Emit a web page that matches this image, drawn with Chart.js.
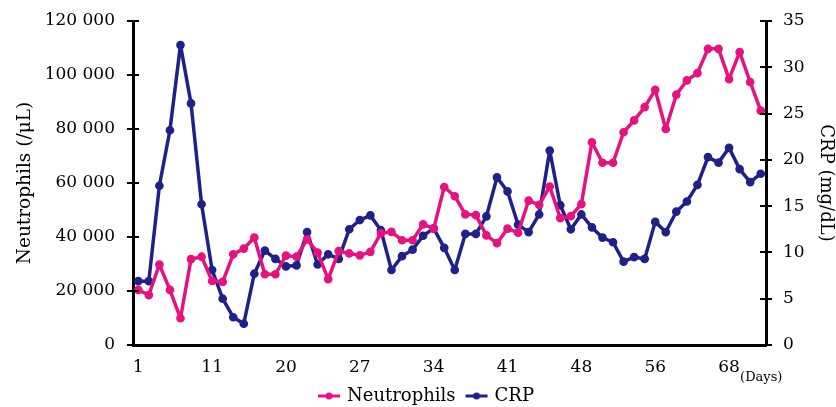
<!DOCTYPE html>
<html>
<head>
<meta charset="utf-8">
<script src="https://cdn.jsdelivr.net/npm/chart.js@4"></script>
<style>
  html, body { margin: 0; padding: 0; background: #fff; }
  #wrap { width: 836px; height: 407px; }
</style>
</head>
<body>
<div id="wrap"><canvas id="c"></canvas></div>
<script>
/* Nötrofil (sol eksen) ve CRP (sağ eksen), 60 ölçüm */

const PINK = "#e5127f";
const NAVY = "#1f2189";
const SERIF = '"DejaVu Serif", "Liberation Serif", serif';

// x ekseninde her 7. ölçümün günü yazılı
const DAY_TICKS = ["1", "11", "20", "27", "34", "41", "48", "56", "68"];
const TICK_STEP = 7;

const NEUTROPHILS = [
  20400, 18500, 29800, 20400, 9900, 31800, 32700, 23700, 23400, 33600,
  35700, 39800, 26200, 26200, 33100, 32700, 39100, 34200, 24400, 34800,
  33900, 33200, 34500, 41400, 41900, 38800, 38800, 44700, 43100, 58500,
  55100, 48400, 48100, 40600, 37700, 43100, 41600, 53500, 51900, 58700,
  47000, 47700, 52200, 75100, 67500, 67500, 78800, 83200, 88100, 94500,
  80000, 92700, 98000, 100700, 109700, 109700, 98500, 108500, 97400, 86800,
];

const CRP = [
  6.9, 6.9, 17.2, 23.2, 32.4, 26.1, 15.2, 8.1, 5.0, 3.0,
  2.3, 7.7, 10.2, 9.3, 8.5, 8.6, 12.2, 8.7, 9.8, 9.3,
  12.5, 13.5, 14.0, 12.4, 8.1, 9.6, 10.3, 11.8, 12.6, 10.5,
  8.1, 12.0, 12.0, 13.9, 18.1, 16.6, 13.0, 12.2, 14.1, 21.0,
  15.1, 12.5, 14.1, 12.7, 11.6, 11.1, 9.0, 9.5, 9.3, 13.3,
  12.2, 14.4, 15.5, 17.3, 20.3, 19.7, 21.3, 19.0, 17.6, 18.5,
];

const LABELS = NEUTROPHILS.map((_, i) =>
  i % TICK_STEP === 0 ? DAY_TICKS[i / TICK_STEP] || "" : ""
);

/** 120000 -> "120 000" */
function spaced(v) {
  return String(v).replace(/\B(?=(\d{3})+(?!\d))/g, " ");
}

/** Lejant işareti: kısa çizgi + ortada nokta (soldaki boşluk öğeleri ayırır) */
function marker(color) {
  const c = document.createElement("canvas");
  c.width = 34;
  c.height = 10;
  const ctx = c.getContext("2d");
  ctx.strokeStyle = color;
  ctx.lineWidth = 3;
  ctx.beginPath();
  ctx.moveTo(11, 5);
  ctx.lineTo(33, 5);
  ctx.stroke();
  ctx.fillStyle = color;
  ctx.beginPath();
  ctx.arc(22, 5, 3.5, 0, Math.PI * 2);
  ctx.fill();
  return c;
}

/* Dikey eksenlerde çizgiyi kesen tik işaretleri */
const crossTicks = {
  id: "crossTicks",
  afterDraw(chart) {
    const ctx = chart.ctx;
    ctx.save();
    ctx.strokeStyle = "#000";
    ctx.lineWidth = 2;
    for (const id of ["y", "y2"]) {
      const s = chart.scales[id];
      const x = id === "y" ? chart.chartArea.left : chart.chartArea.right;
      s.ticks.forEach((t, i) => {
        const py = Math.round(s.getPixelForTick(i));
        ctx.beginPath();
        ctx.moveTo(x - 6, py);
        ctx.lineTo(x + 6, py);
        ctx.stroke();
      });
    }
    ctx.restore();
  },
};

/* "(Days)" yazısı son etiketin sağında */
const daysNote = {
  id: "daysNote",
  afterDraw(chart) {
    const ctx = chart.ctx;
    const x = chart.scales.x;
    const last = Math.floor((LABELS.length - 1) / TICK_STEP) * TICK_STEP;
    ctx.save();
    ctx.font = "13px " + SERIF;
    ctx.fillStyle = "#000";
    ctx.textBaseline = "middle";
    ctx.fillText("(Days)", x.getPixelForValue(last) + 11, chart.chartArea.bottom + 33);
    ctx.restore();
  },
};

const tickFont = { family: SERIF, size: 17 };
const noGrid = { display: true, drawOnChartArea: false, tickLength: 8, color: "transparent" };

/* etiket boşluğu üst/alt kenar payına eklenmesin */
function verticalFit(width) {
  return (s) => {
    s.width = width;
    s.paddingTop = 0;
    s.paddingBottom = 0;
  };
}

new Chart(document.getElementById("c"), {
  type: "line",
  data: {
    labels: LABELS,
    datasets: [
      {
        label: "Neutrophils",
        data: NEUTROPHILS,
        yAxisID: "y",
        borderColor: PINK,
        backgroundColor: PINK,
        borderWidth: 3.5,
        borderJoinStyle: "round",
        pointRadius: 2.6,
        pointHoverRadius: 2.6,
        tension: 0,
      },
      {
        label: "CRP",
        data: CRP,
        yAxisID: "y2",
        borderColor: NAVY,
        backgroundColor: NAVY,
        borderWidth: 3.5,
        borderJoinStyle: "round",
        pointRadius: 2.6,
        pointHoverRadius: 2.6,
        tension: 0,
      },
    ],
  },
  options: {
    responsive: true,
    maintainAspectRatio: false,
    animation: false,
    layout: { padding: { top: 21, bottom: -8, left: 4, right: -4 } },
    plugins: {
      tooltip: { enabled: false },
      legend: {
        position: "bottom",
        labels: {
          color: "#000",
          font: { family: SERIF, size: 18 },
          usePointStyle: true,
          pointStyleWidth: 28,
          padding: 2,
          boxHeight: 10,
          generateLabels(chart) {
            const items = Chart.defaults.plugins.legend.labels.generateLabels(chart);
            items.forEach((it) => {
              it.pointStyle = marker(chart.data.datasets[it.datasetIndex].borderColor);
            });
            return items;
          },
        },
      },
    },
    scales: {
      x: {
        type: "category",
        offset: true,
        grid: { display: false },
        border: { display: true, color: "#000", width: 3 },
        ticks: {
          color: "#000",
          font: tickFont,
          autoSkip: false,
          maxRotation: 0,
          padding: 4,
        },
        afterFit(s) { s.height = 40; },
      },
      y: {
        position: "left",
        min: 0,
        max: 120000,
        grid: noGrid,
        border: { display: true, color: "#000", width: 3 },
        ticks: {
          stepSize: 20000,
          color: "#000",
          font: tickFont,
          padding: 10,
          callback: (v) => spaced(v),
        },
        title: {
          display: true,
          text: "Neutrophils (/μL)",
          color: "#000",
          font: { family: SERIF, size: 18.5 },
          padding: { top: 10, bottom: 0 },
        },
        afterFit: verticalFit(129),
      },
      y2: {
        position: "right",
        min: 0,
        max: 35,
        grid: noGrid,
        border: { display: true, color: "#000", width: 3 },
        ticks: {
          stepSize: 5,
          color: "#000",
          font: tickFont,
          padding: 9,
        },
        title: {
          display: true,
          text: "CRP (mg/dL)",
          color: "#000",
          font: { family: SERIF, size: 18 },
          padding: { top: 4, bottom: 0 },
        },
        afterFit: verticalFit(74),
      },
    },
  },
  plugins: [crossTicks, daysNote],
});
</script>
</body>
</html>
